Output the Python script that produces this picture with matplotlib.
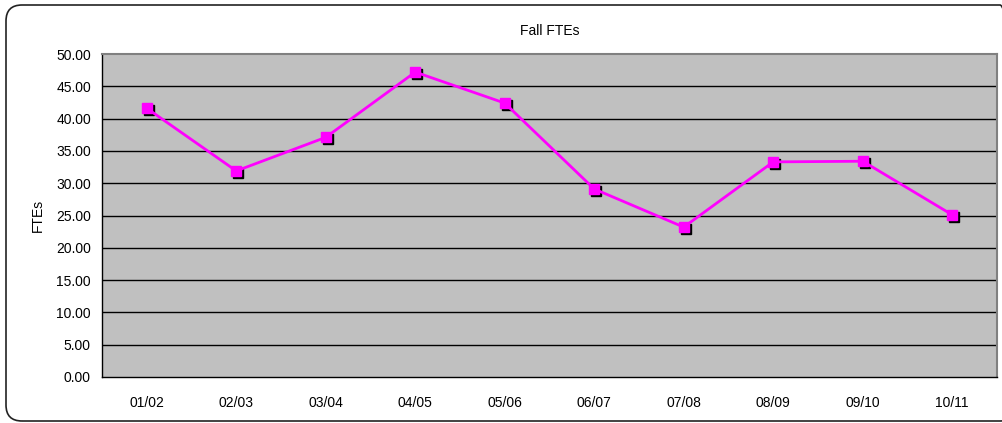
import matplotlib
matplotlib.use("Agg")
import matplotlib.pyplot as plt
from matplotlib.patches import FancyBboxPatch
from matplotlib.transforms import offset_copy

plt.rcParams["font.family"] = ["Liberation Sans", "DejaVu Sans"]

years = ["01/02", "02/03", "03/04", "04/05", "05/06", "06/07", "07/08", "08/09", "09/10", "10/11"]
ftes = [41.6, 31.9, 37.1, 47.2, 42.4, 29.1, 23.2, 33.3, 33.4, 25.1]
y_ticks = [0, 5, 10, 15, 20, 25, 30, 35, 40, 45, 50]

fig = plt.figure(figsize=(10.02, 4.23), dpi=100)
ax = fig.add_axes([102 / 1002, 1 - 377 / 423, 895 / 1002, 323 / 423])

# rounded chart border (pixel coords)
border = FancyBboxPatch((6, 2), 1010, 416, boxstyle="round,pad=0,rounding_size=16",
                        transform=None, facecolor="none", edgecolor="#222222", linewidth=1.2)
fig.patches.append(border)

ax.set_facecolor("#C0C0C0")
x = list(range(len(years)))

for v in y_ticks[1:-1]:
    ax.axhline(v, color="black", linewidth=1.0, zorder=1)

# marker shadow
shadow = offset_copy(ax.transData, fig=fig, x=2, y=-2, units="dots")
ax.plot(x, ftes, linestyle="none", marker="s", markersize=6.5, color="black",
        transform=shadow, zorder=2)
ax.plot(x, ftes, color="#FF00FF", linewidth=2, marker="s", markersize=6.5,
        markerfacecolor="#FF00FF", markeredgecolor="#FF00FF", zorder=3)

ax.set_xlim(-0.5, len(years) - 0.5)
ax.set_ylim(0, 50)
ax.set_xticks(x)
ax.set_xticklabels(years)
ax.set_yticks(y_ticks)
ax.set_yticklabels([f"{v:.2f}" for v in y_ticks])
ax.tick_params(length=0, labelsize=10, pad=8)
ax.tick_params(axis="x", pad=14)
ax.set_ylabel("FTEs", fontsize=10, labelpad=8)
ax.set_title("Fall FTEs", fontsize=10, pad=14)

for side in ["left", "bottom"]:
    ax.spines[side].set_color("black")
    ax.spines[side].set_linewidth(1.0)
for side in ["top", "right"]:
    ax.spines[side].set_color("#808080")
    ax.spines[side].set_linewidth(1.5)

fig.savefig("out.png", dpi=100)
